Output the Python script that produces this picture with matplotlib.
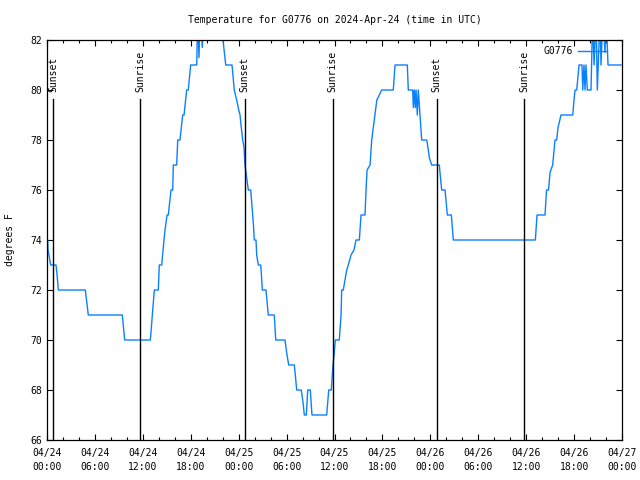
import numpy as np
import matplotlib.pyplot as plt

# hours since 2024-04-24 00:00 UTC and temperature (F)
hours = [0.00, 0.09, 0.13, 0.29, 0.46, 1.13, 1.29, 1.42, 4.80, 5.17,
         9.43, 9.73, 12.94, 13.19, 13.44, 13.94, 14.06, 14.36, 14.65, 14.78,
         15.03, 15.19, 15.53, 15.74, 15.82, 16.24, 16.37, 16.65, 16.99, 17.16,
         17.49, 17.69, 17.99, 18.75, 18.87, 19.03, 19.16, 19.45, 19.57, 21.95,
         22.04, 22.38, 23.17, 23.45, 23.75, 24.01, 24.17, 24.29, 24.51, 24.67,
         24.79, 24.92, 25.08, 25.21, 25.51, 25.63, 25.71, 25.83, 25.96, 26.17,
         26.26, 26.46, 26.76, 26.89, 26.96, 27.42, 27.71, 28.46, 28.64, 29.80,
         30.05, 30.27, 30.97, 31.27, 31.84, 32.06, 32.22, 32.47, 32.65, 32.97,
         33.18, 35.02, 35.28, 35.60, 35.81, 35.98, 36.10, 36.60, 36.82, 36.90,
         37.10, 37.53, 37.73, 38.07, 38.44, 38.69, 39.11, 39.32, 39.82, 39.95,
         40.08, 40.45, 40.66, 40.82, 41.07, 41.30, 41.91, 43.36, 43.58, 45.12,
         45.24, 45.79, 45.87, 45.99, 46.12, 46.21, 46.37, 46.49, 46.71, 46.92,
         47.55, 47.75, 47.87, 48.17, 49.12, 49.42, 49.84, 50.13, 50.63, 50.88,
         61.15, 61.36, 62.36, 62.55, 62.80, 62.99, 63.32, 63.61, 63.82, 63.99,
         64.36, 65.83, 65.99, 66.12, 66.33, 66.62, 66.99, 67.08, 67.24, 67.37,
         67.49, 67.66, 67.87, 68.12, 68.33, 68.50, 68.75, 68.91, 69.25, 69.37,
         69.62, 69.87, 70.00, 70.25, 70.41, 71.88]
temps = [74, 74, 73.6, 73.3, 73, 73, 72.5, 72, 72, 71,
         71, 70, 70, 71, 72, 72, 73, 73, 74, 74.4,
         75, 75, 76, 76, 77, 77, 78, 78, 79, 79,
         80, 80, 81, 81, 83, 81.3, 83, 81.7, 83, 83,
         82, 81, 81, 80, 79.6, 79.2, 79, 78.6, 78, 77.7,
         77, 76.7, 76.3, 76, 76, 75.5, 75.2, 74.7, 74, 74,
         73.4, 73, 73, 72.4, 72, 72, 71, 71, 70, 70,
         69.4, 69, 69, 68, 68, 67.5, 67, 67, 68, 68,
         67, 67, 68, 68, 69, 69.5, 70, 70, 71, 72,
         72, 72.8, 73, 73.4, 73.6, 74, 74, 75, 75, 76,
         76.8, 77, 78, 78.4, 79, 79.6, 80, 80, 81, 81,
         80, 80, 79.3, 80, 79.3, 80, 79, 80, 79, 78,
         78, 77.6, 77.3, 77, 77, 76, 76, 75, 75, 74,
         74, 75, 75, 76, 76, 76.7, 77, 78, 78, 78.5,
         79, 79, 79.6, 80, 80, 81, 81, 80, 81, 80,
         81, 80, 80, 80, 83, 81, 83, 80, 83, 81,
         83, 81.5, 83, 81, 81, 81]

sun_hours = [0.79, 11.67, 24.75, 35.79, 48.80, 59.75]
sun_labels = ["Sunset", "Sunrise", "Sunset", "Sunrise", "Sunset", "Sunrise"]

tick_hours = list(range(0, 73, 6))
tick_labels = ["04/24\n00:00", "04/24\n06:00", "04/24\n12:00", "04/24\n18:00",
               "04/25\n00:00", "04/25\n06:00", "04/25\n12:00", "04/25\n18:00",
               "04/26\n00:00", "04/26\n06:00", "04/26\n12:00", "04/26\n18:00",
               "04/27\n00:00"]

plt.rcParams['font.family'] = 'DejaVu Sans Mono'
plt.rcParams['font.size'] = 7

fig = plt.figure(figsize=(6.4, 4.8), dpi=100)
ax = fig.add_axes([47/640, 40/480, 575/640, 400/480])

ax.plot(hours, temps, color='#0a80ff', lw=1.0, label='G0776')

for h, lab in zip(sun_hours, sun_labels):
    ax.plot([h, h], [79.64, 66], color='black', lw=1.0)
    ax.text(h, 79.92, lab, rotation=90, ha='center', va='bottom')

ax.set_xlim(0, 72)
ax.set_ylim(66, 82)
ax.set_xticks(tick_hours)
ax.set_xticklabels(tick_labels, linespacing=1.5)
ax.set_xticks(range(0, 73, 2), minor=True)
ax.set_yticks(range(66, 83, 2))
ax.tick_params(direction='in', top=True, right=True, length=4, width=0.8)
ax.tick_params(which='minor', direction='in', top=True, length=2, width=0.8)
ax.tick_params(axis='x', pad=6)
for s in ax.spines.values():
    s.set_linewidth(0.9)

ax.legend(loc='upper right', bbox_to_anchor=(1 - 9/575, 1.0), frameon=False,
          markerfirst=False, handlelength=2.9, borderaxespad=0.25,
          handletextpad=0.6)

fig.text(334.5/640, 1 - 20/480, "Temperature for G0776 on 2024-Apr-24 (time in UTC)",
         ha='center', va='center')
fig.text(10/640, 0.5, "degrees F", rotation=90, ha='center', va='center')

plt.savefig('out.png', dpi=100)
